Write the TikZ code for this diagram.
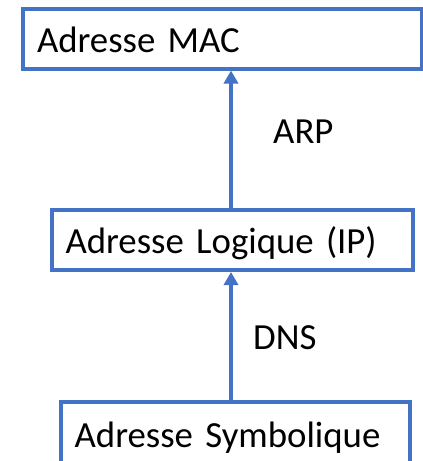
\documentclass[tikz,border=0pt]{standalone}
\usepackage{fontspec}
\setmainfont{Carlito}
\usetikzlibrary{arrows.meta}
\definecolor{obl}{HTML}{4472C4}
\begin{document}
\begin{tikzpicture}[x=1pt,y=-1pt,
  box/.style={draw=obl, line width=4pt, rectangle, inner xsep=14pt, inner ysep=0pt,
    align=left, text height=34pt, text depth=6pt, font=\fontsize{36.8}{44}\selectfont},
  lbl/.style={anchor=base west, inner sep=0pt, font=\fontsize{36.8}{44}\selectfont},
  arr/.style={draw=obl, line width=4pt, -{Triangle[width=14pt,length=13pt]}}]
\useasboundingbox (0,0) rectangle (423,461);
\clip (0,0) rectangle (423,461);
\node[box, text width=371pt, minimum height=59.5pt] (mac) at (222.5,38.75) {Adresse MAC};
\node[box, text width=333.8pt, minimum height=60.5pt] (ip) at (232.4,239.75) {Adresse Logique (IP)};
\node[box, text width=321.3pt, minimum height=62pt] (sym) at (235.3,433) {Adresse Symbolique};
\coordinate (ax) at (231,0);
\draw[arr] (sym.north -| ax) -- (ip.south -| ax);
\draw[arr] (ip.north -| ax) -- (mac.south -| ax);
\node[lbl] (arp) at (273,143) {ARP};
\node[lbl] (dns) at (253,349) {DNS};
\end{tikzpicture}
\end{document}
